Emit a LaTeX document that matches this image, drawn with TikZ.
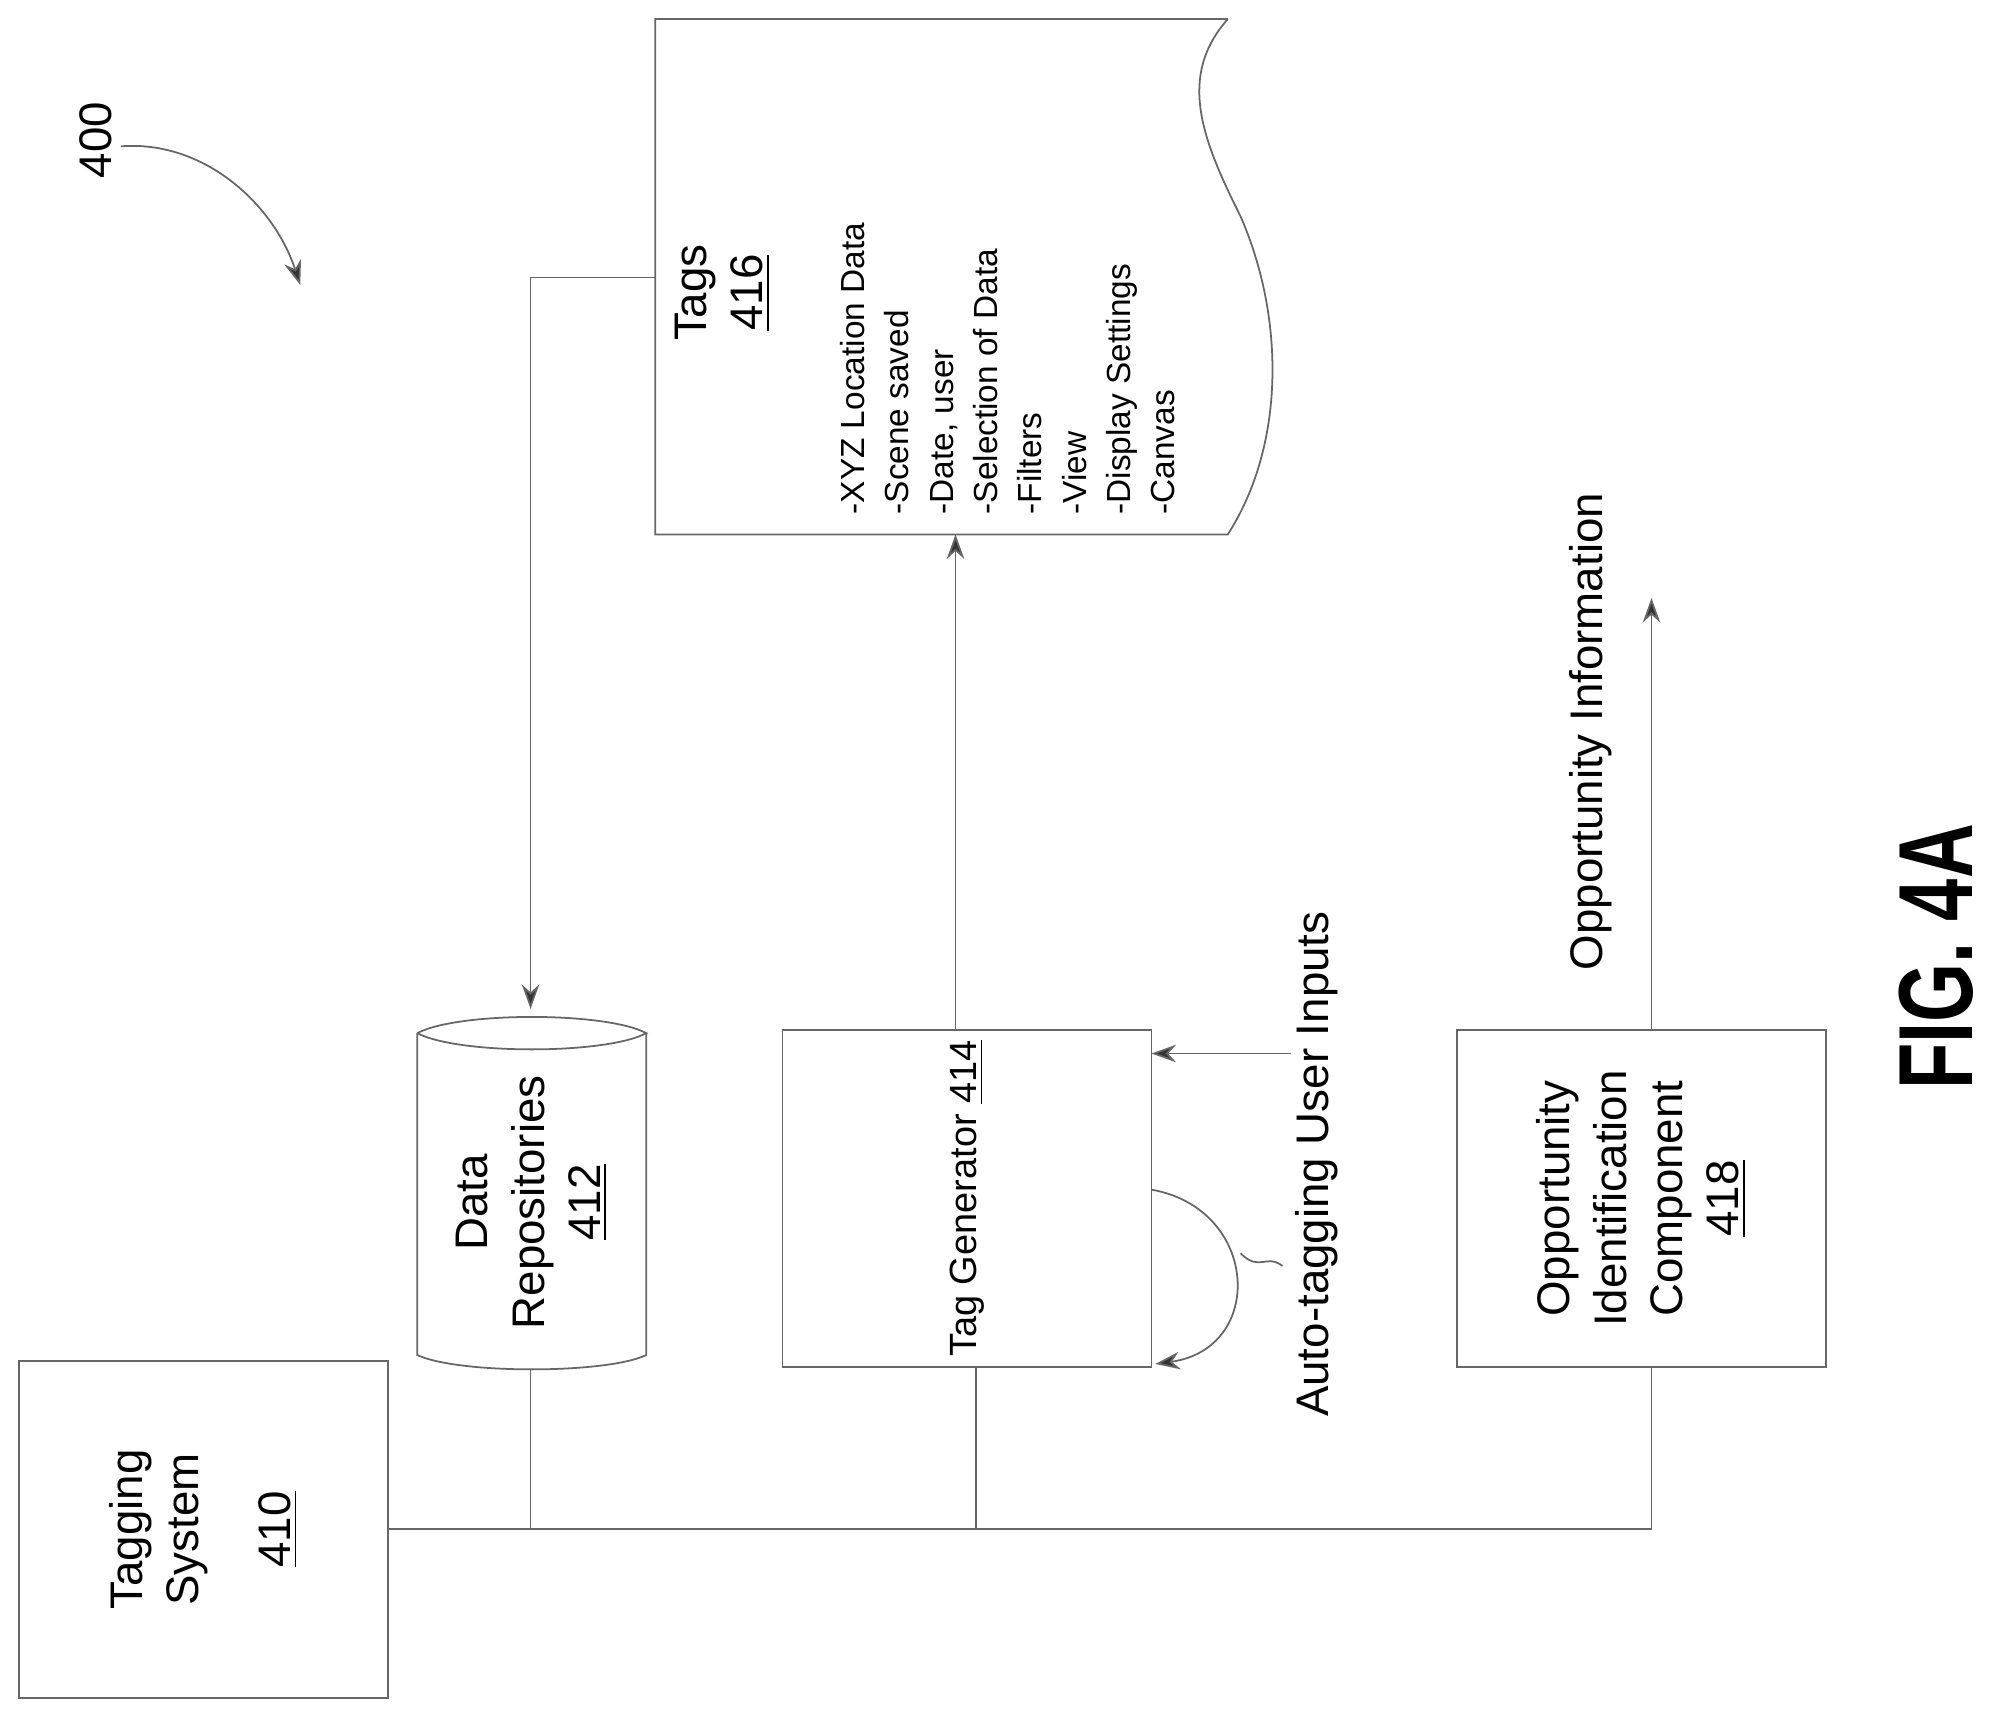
\documentclass[tikz,border=0pt]{standalone}
\usepackage{fontspec}
\setmainfont{Liberation Sans}
\usetikzlibrary{arrows.meta}
\begin{document}
\begin{tikzpicture}
    [x=0.012723cm, y=-0.012723cm,
    line/.style = {draw=black!60, line width=0.5pt},
    arr/.style = {line, -{Stealth[length=7pt,width=5pt,fill=black!80]}},
    box/.style = {line, rotate=90, minimum width=3.37cm, minimum height=3.69cm,
                  align=center, font=\fontsize{13}{16}\selectfont},
    lbl/.style = {rotate=90, font=\fontsize{13}{16}\selectfont}]
    \useasboundingbox (0,0) rectangle (1568,1351);
    % boxes
    \node[box] (ts) at (160,1202) {Tagging\\System\\[10pt]\underline{410}};
    \node[box, inner xsep=2pt, font=\fontsize{10.8}{14}\selectfont] (tg) at (760,942) {Tag Generator \underline{414}};
    \node[box] (oc) at (1290,942) {Opportunity\\Identification\\Component\\\underline{418}};
    % data repositories cylinder
    \draw[line] (328,812) -- (328,1065) .. controls (360,1080) and (476,1080) .. (508,1065)
        -- (508,812);
    \draw[line] (328,812) .. controls (360,795) and (476,795) .. (508,812)
        .. controls (476,829) and (360,829) .. (328,812);
    \node[lbl, align=center] (dr) at (418,945) {Data\\Repositories\\\underline{412}};
    \coordinate (drtop) at (417,793);
    \coordinate (drbot) at (417,1077);
    % tags document
    \draw[line] (965,15) -- (515,15) -- (515,420) -- (965,420)
        .. controls (1010,350) and (1010,250) .. (975,170)
        .. controls (945,110) and (925,60) .. (965,15);
    \node[lbl, align=center] (tags) at (568,230) {Tags\\\underline{416}};
    \node[rotate=90, anchor=west, align=left, font=\fontsize{9.5}{12.6}\selectfont] (list) at (792,414)
        {-XYZ Location Data\\-Scene saved\\-Date, user\\-Selection of Data\\-Filters\\-View\\-Display Settings\\-Canvas};
    \coordinate (tagsl) at (515,218);
    \coordinate (tagsb) at (751,420);
    % bus
    \coordinate (b1) at (417,1202);
    \coordinate (b2) at (767,1202);
    \coordinate (b3) at (1298,1202);
    \draw[line] (ts.south) -- (b3);
    \draw[line] (b1) -- (drbot);
    \draw[line] (b2) -- (767,1075);
    \draw[line] (b3) -- (1298,1075);
    % arrows
    \draw[arr] (tagsl) -| (drtop);
    \draw[arr] (751,810) -- (tagsb);
    \coordinate (oi) at (1298,470);
    \draw[arr] (1298,810) -- (oi);
    \node[lbl] (oil) at (1250,575) {Opportunity Information};
    \coordinate (ui) at (1015,828);
    \draw[arr] (ui) -- (905,828);
    \node[lbl] (atl) at (1035,915) {Auto-tagging User Inputs};
    \draw[arr] (905,935) .. controls (990,950) and (995,1060) .. (908,1072);
    \draw[line] (1008,995) .. controls (995,985) and (990,1000) .. (975,985);
    % reference numerals
    \node[lbl] (n400) at (75,110) {400};
    \draw[arr] (95,115) .. controls (160,110) and (215,160) .. (236,224);
    \node[rotate=90, font=\bfseries\fontsize{30}{36}\selectfont] (fig) at (1522,752)
        {\scalebox{0.72}[1]{FIG. 4A}};
\end{tikzpicture}
\end{document}
